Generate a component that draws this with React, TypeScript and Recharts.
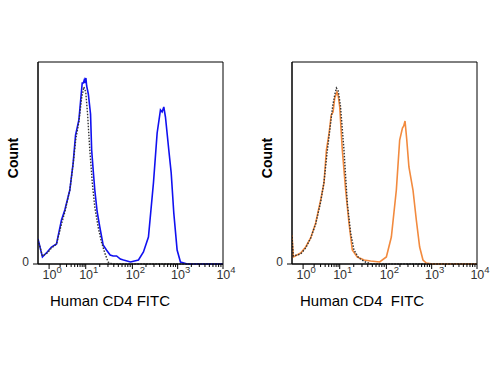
import React from "react";
import {
  LineChart,
  Line,
  XAxis,
  YAxis,
  ReferenceArea,
} from "recharts";

// x in display channels (0-1000, logicle-like), y in events per channel
const cd4Channel = [0, 24, 50, 73, 100, 127, 145, 172, 190, 203, 221, 239, 245, 250, 254, 259, 263, 272, 284, 290, 300, 307, 320, 334, 352, 370, 390, 406, 425, 445, 462, 500, 543, 570, 597, 624, 644, 662, 671, 680, 689, 707, 720, 734, 752, 770, 807, 1000];
const cd4Count = [25, 7, 12, 17, 20, 44, 54, 74, 101, 129, 144, 181, 181, 184, 181, 186, 178, 170, 150, 114, 90, 74, 52, 37, 19, 14, 9, 8, 8, 5, 4, 2, 4, 12, 27, 81, 131, 154, 152, 157, 147, 114, 91, 51, 14, 2, 0, 0];

const isoLeftChannel = [0, 24, 50, 73, 100, 127, 145, 172, 190, 205, 221, 235, 248, 258, 268, 280, 294, 307, 325, 343, 361, 379, 400, 1000];
const isoLeftCount = [24, 8, 11, 16, 20, 40, 52, 74, 100, 126, 142, 165, 177, 172, 150, 114, 80, 57, 37, 22, 11, 2, 0, 0];

const cd4bChannel = [0, 7, 47, 74, 101, 128, 155, 173, 186, 200, 212, 222, 231, 243, 250, 258, 272, 290, 308, 326, 353, 390, 425, 474, 510, 537, 564, 582, 597, 604, 611, 620, 632, 654, 672, 690, 708, 726, 760, 1000];
const cd4bCount = [29, 7, 11, 17, 26, 41, 64, 81, 114, 130, 149, 152, 166, 172, 168, 157, 114, 74, 41, 14, 7, 4, 3, 2, 7, 27, 74, 124, 136, 138, 143, 125, 97, 74, 44, 17, 4, 1, 0, 0];

const isoRightChannel = [0, 7, 47, 74, 101, 128, 155, 173, 190, 205, 220, 232, 240, 250, 262, 281, 299, 317, 335, 361, 397, 430, 1000];
const isoRightCount = [27, 8, 10, 16, 26, 40, 62, 82, 112, 135, 158, 170, 176, 173, 158, 114, 61, 31, 14, 6, 2, 0, 0];

// decade positions 10^0 .. 10^4 on the display scale
const decadeChannel = [60, 258, 510, 755, 1000];
const decadeExp = ["0", "1", "2", "3", "4"];

const Y_MAX = 202;
const FONT = "'Liberation Sans Narrow', 'Liberation Sans', Arial, sans-serif";

const zip = (xs: number[], ys: number[]) => xs.map((ch, i) => ({ ch, count: ys[i] }));

// minor ticks 2..9 inside each decade
const minorTicks: number[] = [];
for (let d = 0; d < decadeChannel.length - 1; d++) {
  const a = decadeChannel[d];
  const b = decadeChannel[d + 1];
  for (let k = 2; k <= 9; k++) minorTicks.push(a + (b - a) * Math.log10(k));
}
const allTicks = [...decadeChannel, ...minorTicks].sort((a, b) => a - b);

const DecadeTick = (props: any) => {
  const { x, y, payload } = props;
  const idx = decadeChannel.indexOf(payload.value);
  if (idx < 0) {
    return <line x1={x} x2={x} y1={y} y2={y + 3} stroke="#000" />;
  }
  return (
    <g>
      <line x1={x} x2={x} y1={y} y2={y + 5} stroke="#000" />
      <text x={x + 3} y={y + 15} textAnchor="middle" fontSize={12.5} fill="#333" fontFamily={FONT}>
        <tspan>10</tspan>
        <tspan dy={-6} fontSize={9.5}>{decadeExp[idx]}</tspan>
      </text>
    </g>
  );
};

function Histogram({
  stained,
  iso,
  color,
  marginLeft,
  marginRight,
}: {
  stained: { ch: number; count: number }[];
  iso: { ch: number; count: number }[];
  color: string;
  marginLeft: number;
  marginRight: number;
}) {
  return (
    <LineChart width={250} height={320} margin={{ top: 62, right: marginRight, left: marginLeft, bottom: 26 }}>
      <XAxis
        dataKey="ch"
        type="number"
        domain={[0, 1000]}
        ticks={allTicks}
        interval={0}
        tickSize={0}
        tickMargin={0}
        tickLine={false}
        axisLine={{ stroke: "#000" }}
        tick={<DecadeTick />}
        height={30}
        allowDataOverflow
      />
      <YAxis
        type="number"
        domain={[0, Y_MAX]}
        ticks={[0]}
        width={20}
        tickSize={5}
        tickMargin={4}
        tickLine={{ stroke: "#000" }}
        axisLine={{ stroke: "#000" }}
        tick={{ fontSize: 12, fill: "#333", fontFamily: FONT, dy: -2 }}
      />
      <ReferenceArea x1={0} x2={1000} y1={0} y2={Y_MAX} fill="none" stroke="#000" strokeWidth={1} />
      <Line
        data={stained}
        dataKey="count"
        type="linear"
        stroke={color}
        strokeWidth={1.6}
        dot={false}
        isAnimationActive={false}
      />
      <Line
        data={iso}
        dataKey="count"
        type="linear"
        stroke="#333"
        strokeWidth={1.4}
        strokeDasharray="1.5 1.5"
        dot={false}
        isAnimationActive={false}
      />
    </LineChart>
  );
}

const countStyle: React.CSSProperties = {
  position: "absolute",
  fontFamily: FONT,
  fontWeight: "bold",
  fontSize: 14,
  transform: "rotate(-90deg)",
  transformOrigin: "center",
  width: 60,
  textAlign: "center",
  lineHeight: "14px",
};

const xLabelStyle: React.CSSProperties = {
  position: "absolute",
  fontFamily: FONT,
  fontSize: 15,
  lineHeight: "15px",
  whiteSpace: "pre",
};

export default function App() {
  return (
    <div style={{ position: "absolute", left: 0, top: 0, width: 500, height: 375, background: "#fff" }}>
      <div style={{ position: "absolute", left: 0, top: 0 }}>
        <Histogram stained={zip(cd4Channel, cd4Count)} iso={zip(isoLeftChannel, isoLeftCount)} color="#1010f0" marginLeft={18} marginRight={27} />
      </div>
      <div style={{ position: "absolute", left: 250, top: 0 }}>
        <Histogram stained={zip(cd4bChannel, cd4bCount)} iso={zip(isoRightChannel, isoRightCount)} color="#f28a3e" marginLeft={22} marginRight={23} />
      </div>
      <div style={{ ...countStyle, left: -17, top: 151 }}>Count</div>
      <div style={{ ...countStyle, left: 237, top: 151 }}>Count</div>
      <div style={{ ...xLabelStyle, left: 50, top: 293 }}>Human CD4 FITC</div>
      <div style={{ ...xLabelStyle, left: 300, top: 293 }}>{"Human CD4  FITC"}</div>
    </div>
  );
}
